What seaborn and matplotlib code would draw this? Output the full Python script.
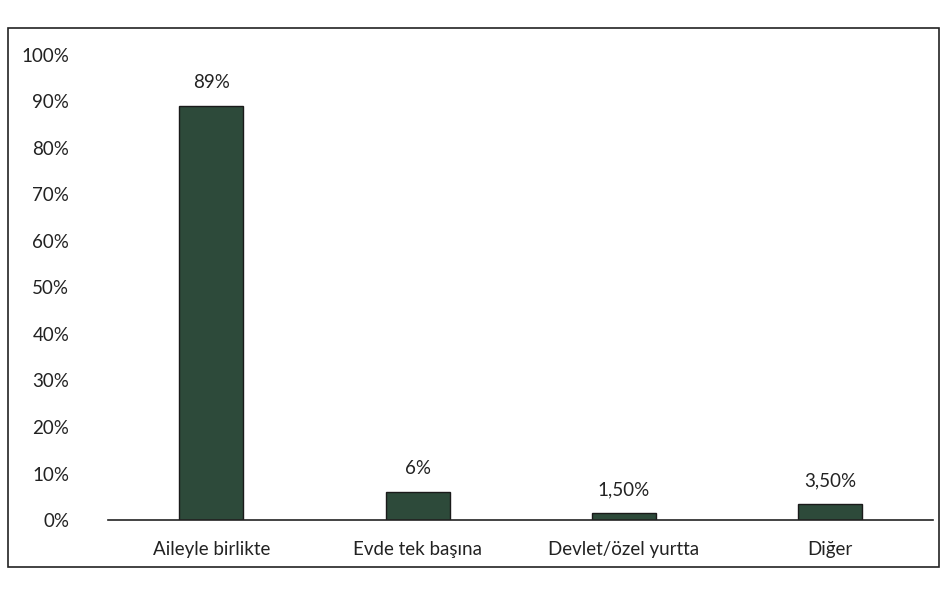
import matplotlib
matplotlib.use("Agg")
import matplotlib.pyplot as plt
import seaborn as sns
import pandas as pd
from matplotlib.patches import Rectangle

categories = ["Aileyle birlikte", "Evde tek başına", "Devlet/özel yurtta", "Diğer"]
values = [89, 6, 1.5, 3.5]
value_labels = ["89%", "6%", "1,50%", "3,50%"]
yticks = [0, 10, 20, 30, 40, 50, 60, 70, 80, 90, 100]

sns.set_theme(style="white")
plt.rcParams["font.family"] = ["Lato", "DejaVu Sans"]

df = pd.DataFrame({"cat": categories, "val": values})

fig = plt.figure(figsize=(9.41, 5.89), dpi=100)
ax = fig.add_axes([0.115, 0.117, 0.877, 0.79])
sns.barplot(data=df, x="cat", y="val", color="#2d4a3a", width=0.31,
            edgecolor="#1a1a1a", linewidth=1.0, saturation=1, ax=ax)

for i, (v, lab) in enumerate(zip(values, value_labels)):
    ax.text(i, v + 3.2, lab, ha="center", va="bottom", fontsize=13.5, color="#222222")

ax.set_ylim(0, 100)
ax.set_xlim(-0.5, 3.5)
ax.set_yticks(yticks)
ax.set_yticklabels([f"{t}%" for t in yticks], fontsize=13.5, color="#222222")
ax.tick_params(axis="y", length=0, pad=28)
ax.tick_params(axis="x", length=0, pad=15, labelsize=13.5, colors="#222222")
ax.set_xlabel("")
ax.set_ylabel("")
for s in ["top", "right", "left"]:
    ax.spines[s].set_visible(False)
ax.spines["bottom"].set_color("#222222")
ax.spines["bottom"].set_linewidth(1.2)

fig.patches.append(Rectangle((0.008, 0.037), 0.99, 0.915, transform=fig.transFigure,
                             fill=False, edgecolor="#222222", linewidth=1.2))

fig.savefig("out.png", dpi=100, facecolor="white")
